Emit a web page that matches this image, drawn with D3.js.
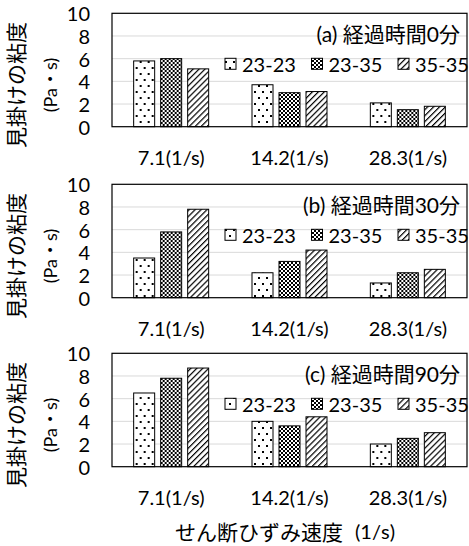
<!DOCTYPE html>
<html>
<head>
<meta charset="utf-8">
<script src="https://cdn.jsdelivr.net/npm/d3@7"></script>
<style>
  html, body { margin: 0; padding: 0; background: #fff; }
  svg { display: block; }
  text { font-family: Lato, "Noto Sans CJK JP", sans-serif; fill: #000; }
</style>
</head>
<body>
<svg id="chart" width="469" height="546"></svg>
<script>
// Shear rates (x categories) and mixing-temperature series
const categories = ["7.1(1/s)", "14.2(1/s)", "28.3(1/s)"];
const seriesNames = ["23-23", "23-35", "35-35"];
const panelTitles = ["(a) 経過時間0分", "(b) 経過時間30分", "(c) 経過時間90分"];
const yTicks = [0, 2, 4, 6, 8, 10];

// Apparent viscosity (Pa·s), rows = shear rate, columns = series
const values0min  = [[5.8, 6.0, 5.1], [3.7, 3.0, 3.1], [2.1, 1.5, 1.8]];
const values30min = [[3.5, 5.8, 7.8], [2.2, 3.2, 4.2], [1.3, 2.2, 2.5]];
const values90min = [[6.5, 7.8, 8.7], [4.0, 3.6, 4.4], [2.0, 2.5, 3.0]];
const panelValues = [values0min, values30min, values90min];

const yTitle = "見掛けの粘度";
const yUnit = "(Pa・s)";
const xTitle = "せん断ひずみ速度";
const xUnit = "(1/s)";

const svg = d3.select("#chart");
const defs = svg.append("defs");

// Fill patterns: dots, small checker board, wide upward diagonal
const pDots = defs.append("pattern").attr("id", "pat0")
  .attr("patternUnits", "userSpaceOnUse").attr("width", 8).attr("height", 12);
pDots.append("rect").attr("width", 8).attr("height", 12).attr("fill", "#fff");
pDots.append("rect").attr("x", 1).attr("y", 1).attr("width", 2).attr("height", 2).attr("fill", "#000");
pDots.append("rect").attr("x", 5).attr("y", 7).attr("width", 2).attr("height", 2).attr("fill", "#000");

const pCheck = defs.append("pattern").attr("id", "pat1")
  .attr("patternUnits", "userSpaceOnUse").attr("width", 4).attr("height", 4);
pCheck.append("rect").attr("width", 4).attr("height", 4).attr("fill", "#fff");
pCheck.append("rect").attr("x", 0).attr("y", 0).attr("width", 2).attr("height", 2).attr("fill", "#000");
pCheck.append("rect").attr("x", 2).attr("y", 2).attr("width", 2).attr("height", 2).attr("fill", "#000");

const pDiag = defs.append("pattern").attr("id", "pat2")
  .attr("patternUnits", "userSpaceOnUse").attr("width", 4.2).attr("height", 4.2)
  .attr("patternTransform", "rotate(45)");
pDiag.append("rect").attr("width", 4.2).attr("height", 4.2).attr("fill", "#fff");
pDiag.append("line").attr("x1", 0.6).attr("y1", 0).attr("x2", 0.6).attr("y2", 4.2)
  .attr("stroke", "#000").attr("stroke-width", 1.2);

const fills = seriesNames.map((d, i) => `url(#pat${i})`);

const plotLeft = 112, plotRight = 467;
const panelTops = [13.3, 184.3, 353.3];
const plotH = 113.4;

const x0 = d3.scaleBand().domain(categories).range([plotLeft, plotRight]).padding(0);
const x1 = d3.scaleBand().domain(seriesNames).range([0, 81])
  .paddingInner(6 / 27).paddingOuter(3 / 27);

panelValues.forEach((vals, p) => {
  const top = panelTops[p];
  const y = d3.scaleLinear().domain([0, 10]).range([top + plotH, top]);
  const g = svg.append("g");

  // gridlines
  g.selectAll("line.grid").data(yTicks.filter(t => t > 0 && t < 10)).join("line")
    .attr("x1", plotLeft).attr("x2", plotRight)
    .attr("y1", d => y(d)).attr("y2", d => y(d))
    .attr("stroke", "#d9d9d9").attr("stroke-width", 1);

  // y tick labels
  g.selectAll("text.ytick").data(yTicks).join("text")
    .attr("x", 90).attr("y", d => y(d))
    .attr("text-anchor", "end").attr("dominant-baseline", "central")
    .style("font-size", "20px").text(d => d);

  // bars
  const groups = g.selectAll("g.grp").data(categories).join("g")
    .attr("transform", c => `translate(${x0(c) + x0.bandwidth() / 2 - 40.5},0)`);
  groups.selectAll("rect").data((c, ci) => seriesNames.map((s, si) => ({ s, si, v: vals[ci][si] })))
    .join("rect")
    .attr("x", d => x1(d.s)).attr("width", x1.bandwidth())
    .attr("y", d => y(d.v)).attr("height", d => y(0) - y(d.v))
    .attr("fill", d => fills[d.si]).attr("stroke", "#000").attr("stroke-width", 1);

  // plot frame
  g.append("rect").attr("x", plotLeft).attr("y", top).attr("width", plotRight - plotLeft).attr("height", plotH)
    .attr("fill", "none").attr("stroke", "#000").attr("stroke-width", 1.2);

  // x tick labels
  g.selectAll("text.xtick").data(categories).join("text")
    .attr("x", c => x0(c) + x0.bandwidth() / 2).attr("y", top + plotH + 30)
    .attr("text-anchor", "middle").attr("dominant-baseline", "central")
    .style("font-size", "20px").text(c => c);

  // panel title
  g.append("text").attr("x", 460).attr("y", top + 20)
    .attr("text-anchor", "end").attr("dominant-baseline", "central")
    .style("font-size", "21px").text(panelTitles[p]);

  // legend
  const lg = g.append("g");
  seriesNames.forEach((s, i) => {
    const lx = 225 + i * 86.5;
    lg.append("rect").attr("x", lx).attr("y", top + 45).attr("width", 11).attr("height", 11)
      .attr("fill", fills[i]).attr("stroke", "#000").attr("stroke-width", 1);
    lg.append("text").attr("x", lx + 17).attr("y", top + 50.5)
      .attr("dominant-baseline", "central").style("font-size", "20px").text(s);
  });

  // y-axis title (two lines, rotated)
  const cy = top + plotH / 2 + 15;
  g.append("text").attr("transform", `translate(15,${cy}) rotate(-90)`)
    .attr("text-anchor", "middle").attr("dominant-baseline", "central")
    .style("font-size", "21px").text(yTitle);
  g.append("text").attr("transform", `translate(50,${cy}) rotate(-90)`)
    .attr("text-anchor", "middle").attr("dominant-baseline", "central")
    .style("font-size", "18px").text(yUnit);
});

// x-axis title
const xt = svg.append("text").attr("x", 175).attr("y", 531).attr("dominant-baseline", "central");
xt.append("tspan").style("font-size", "21px").text(xTitle);
xt.append("tspan").attr("dx", 12).style("font-size", "20px").text(xUnit);
</script>
</body>
</html>
